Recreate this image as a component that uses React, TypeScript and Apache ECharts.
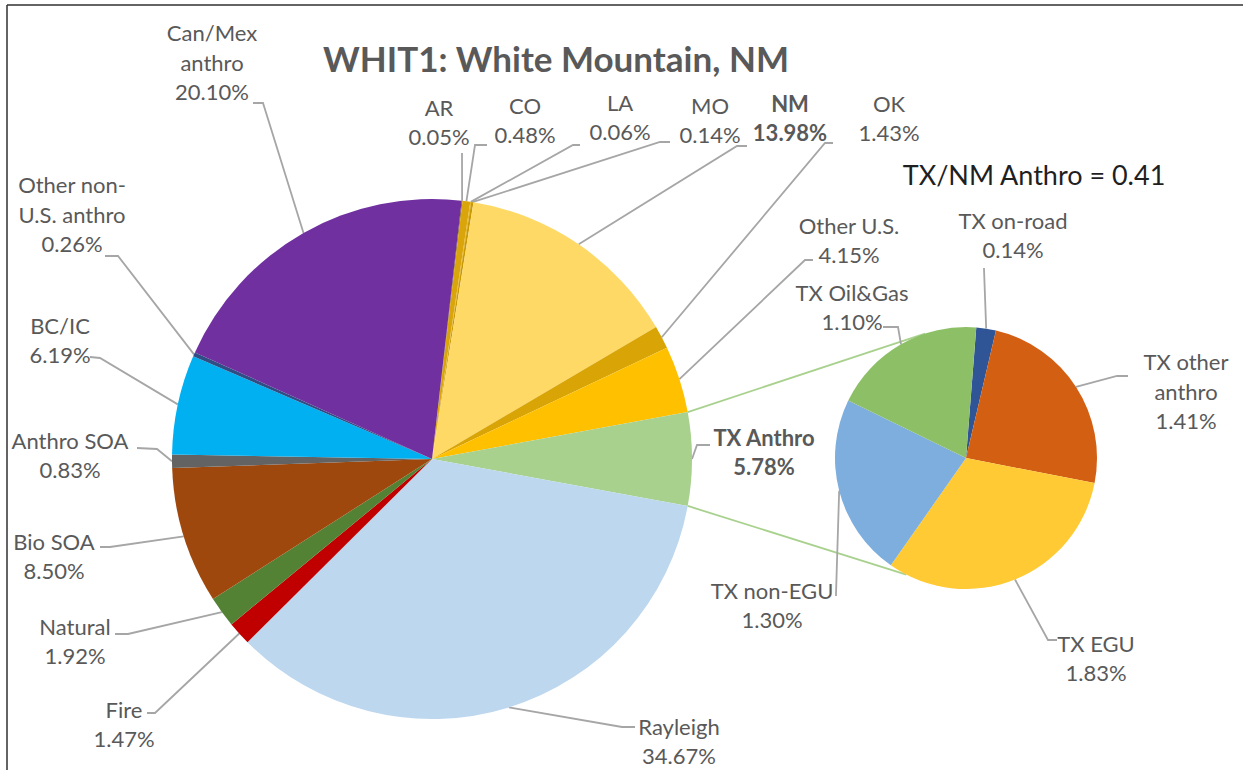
import React, { useEffect, useRef } from "react";
import * as echarts from "echarts";

// ---------------- data ----------------
const TITLE = "WHIT1: White Mountain, NM";
const SUBTITLE = "TX/NM Anthro = 0.41";

const MAIN_NAMES = [
  "AR", "CO", "LA", "MO", "NM", "OK", "Other U.S.", "TX Anthro", "Rayleigh",
  "Fire", "Natural", "Bio SOA", "Anthro SOA", "BC/IC", "Other non-U.S. anthro", "Can/Mex anthro",
];
const MAIN_VALUES = [
  0.05, 0.48, 0.06, 0.14, 13.98, 1.43, 4.15, 5.78, 34.67,
  1.47, 1.92, 8.5, 0.83, 6.19, 0.26, 20.1,
];
const SPLIT_NAME = "TX Anthro";

const SUB_NAMES = ["TX on-road", "TX other anthro", "TX EGU", "TX non-EGU", "TX Oil&Gas"];
const SUB_VALUES = [0.14, 1.41, 1.83, 1.3, 1.1];

const BOLD_LABELS = ["NM", "TX Anthro"];

// ---------------- styles / layout ----------------
const COLORS: Record<string, string> = {
  AR: "#7F6000",
  CO: "#D9A50A",
  LA: "#E6B31E",
  MO: "#C99A06",
  NM: "#FFD966",
  OK: "#D9A506",
  "Other U.S.": "#FFC000",
  "TX Anthro": "#A9D18E",
  Rayleigh: "#BDD7EE",
  Fire: "#C00000",
  Natural: "#548235",
  "Bio SOA": "#9E480E",
  "Anthro SOA": "#636363",
  "BC/IC": "#00B0F0",
  "Other non-U.S. anthro": "#2F4E86",
  "Can/Mex anthro": "#7030A0",
  "TX on-road": "#2F5597",
  "TX other anthro": "#D35F12",
  "TX EGU": "#FFCA33",
  "TX non-EGU": "#7DAEDD",
  "TX Oil&Gas": "#8DC066",
};

const LABEL_TEXT: Record<string, string> = {
  "Can/Mex anthro": "Can/Mex\nanthro",
  "Other non-U.S. anthro": "Other non-\nU.S. anthro",
  "TX other anthro": "TX other\nanthro",
};

type LL = { at: [number, number]; elbow: [number, number]; end: [number, number] };
const LABEL_LAYOUT: Record<string, LL> = {
  AR: { at: [439, 122], elbow: [462, 154], end: [462, 153] },
  CO: { at: [525, 120], elbow: [475, 145], end: [487, 145] },
  LA: { at: [620, 117], elbow: [573, 145], end: [580, 145] },
  MO: { at: [710, 120], elbow: [660, 142], end: [670, 142] },
  NM: { at: [790, 118], elbow: [737, 146], end: [747, 146] },
  OK: { at: [889, 118], elbow: [825, 143], end: [833, 143] },
  "Other U.S.": { at: [849, 240], elbow: [805, 260], end: [813, 260] },
  "TX Anthro": { at: [764, 452], elbow: [697, 445], end: [710, 445] },
  Rayleigh: { at: [679, 741], elbow: [622, 727], end: [635, 727] },
  Fire: { at: [124, 724], elbow: [155, 713], end: [147, 713] },
  Natural: { at: [75, 641], elbow: [128, 634], end: [115, 634] },
  "Bio SOA": { at: [54, 556], elbow: [110, 547], end: [100, 547] },
  "Anthro SOA": { at: [70, 455], elbow: [157, 449], end: [137, 448] },
  "BC/IC": { at: [60, 340], elbow: [100, 358], end: [90, 357] },
  "Other non-U.S. anthro": { at: [72, 214], elbow: [118, 256], end: [105, 256] },
  "Can/Mex anthro": { at: [212, 62], elbow: [263, 103], end: [253, 103] },
  "TX on-road": { at: [1013, 235], elbow: [984, 269], end: [984, 268] },
  "TX other anthro": { at: [1186, 391], elbow: [1117, 376], end: [1128, 376] },
  "TX EGU": { at: [1096, 658], elbow: [1048, 640], end: [1057, 640] },
  "TX non-EGU": { at: [772, 605], elbow: [836, 594], end: [836, 596] },
  "TX Oil&Gas": { at: [852, 307], elbow: [898, 327], end: [883, 327] },
};

const MAIN_CENTER: [number, number] = [432, 459];
const MAIN_R = 260;
const SUB_CENTER: [number, number] = [966, 458];
const SUB_R = 131;
const SUB_START = 85.5;
const SUB_LINK_ANGLES = [108.2, 242.9];

const FONT = "Lato, 'Noto Sans', sans-serif";
const LABEL_COLOR = "#595959";
const LEADER_COLOR = "#A6A6A6";

const sum = (a: number[]) => a.reduce((s, v) => s + v, 0);
const rad = (d: number) => (d * Math.PI) / 180;
const onCircle = (c: [number, number], r: number, deg: number): [number, number] => [
  c[0] + r * Math.cos(rad(deg)),
  c[1] - r * Math.sin(rad(deg)),
];

function boundaries(values: number[], start: number) {
  const total = sum(values);
  const out: number[] = [start];
  let acc = 0;
  values.forEach((v) => {
    acc += v;
    out.push(start - (acc / total) * 360);
  });
  return out;
}

export default function App() {
  const ref = useRef<HTMLDivElement>(null);

  useEffect(() => {
    if (!ref.current) return;
    const chart = echarts.init(ref.current, undefined, { renderer: "svg" });

    const splitIdx = MAIN_NAMES.indexOf(SPLIT_NAME);
    const mainTotal = sum(MAIN_VALUES);
    const before = sum(MAIN_VALUES.slice(0, splitIdx));
    const mainStart = ((before + MAIN_VALUES[splitIdx] / 2) / mainTotal) * 360;
    const mainB = boundaries(MAIN_VALUES, mainStart);
    const subB = boundaries(SUB_VALUES, SUB_START);

    const mkLayout = (names: string[], b: number[], c: [number, number], r: number) => (p: any) => {
      const name = names[p.dataIndex];
      const L = LABEL_LAYOUT[name];
      if (!L) return {};
      const mid = (b[p.dataIndex] + b[p.dataIndex + 1]) / 2;
      const s = onCircle(c, r, mid);
      return {
        x: L.at[0],
        y: L.at[1],
        align: "center",
        verticalAlign: "middle",
        labelLinePoints: [s, L.elbow, L.end],
      };
    };

    const mkData = (names: string[], values: number[]) =>
      names.map((n, i) => ({
        name: n,
        value: values[i],
        itemStyle: { color: COLORS[n] },
        label: { fontWeight: BOLD_LABELS.includes(n) ? "bold" : "normal" },
      }));

    const labelCommon = {
      show: true,
      position: "outside",
      color: LABEL_COLOR,
      fontFamily: FONT,
      fontSize: 22,
      lineHeight: 29.5,
      align: "center",
      formatter: (p: any) => `${LABEL_TEXT[p.name] ?? p.name}\n${Number(p.value).toFixed(2)}%`,
    };
    const labelLineCommon = {
      show: true,
      length: 10,
      length2: 10,
      lineStyle: { color: LEADER_COLOR, width: 1.8 },
    };

    const tA = mainB[splitIdx];
    const tB = mainB[splitIdx + 1];
    const p1 = onCircle(MAIN_CENTER, MAIN_R, tA);
    const p2 = onCircle(MAIN_CENTER, MAIN_R, tB);
    const q1 = onCircle(SUB_CENTER, SUB_R, SUB_LINK_ANGLES[0]);
    const q2 = onCircle(SUB_CENTER, SUB_R, SUB_LINK_ANGLES[1]);

    chart.setOption({
      animation: false,
      backgroundColor: "#ffffff",
      graphic: [
        { type: "line", shape: { x1: 7, y1: 5, x2: 7, y2: 775 }, style: { stroke: "#303030", lineWidth: 1.5 }, z: 1 },
        { type: "line", shape: { x1: 7, y1: 5, x2: 1250, y2: 5 }, style: { stroke: "#303030", lineWidth: 1.5 }, z: 1 },
        { type: "line", shape: { x1: p1[0], y1: p1[1], x2: q1[0], y2: q1[1] }, style: { stroke: "#A9D18E", lineWidth: 1.8 }, z: 1 },
        { type: "line", shape: { x1: p2[0], y1: p2[1], x2: q2[0], y2: q2[1] }, style: { stroke: "#A9D18E", lineWidth: 1.8 }, z: 1 },
        {
          type: "text",
          x: 556,
          y: 58,
          style: { text: TITLE, fontFamily: FONT, fontSize: 35, fontWeight: "bold", fill: "#595959", align: "center", verticalAlign: "middle" },
        },
        {
          type: "text",
          x: 1034,
          y: 174,
          style: { text: SUBTITLE, fontFamily: FONT, fontSize: 27, fill: "#1f1f1f", align: "center", verticalAlign: "middle" },
        },
      ],
      series: [
        {
          type: "pie",
          center: MAIN_CENTER,
          radius: MAIN_R,
          startAngle: mainStart,
          clockwise: true,
          avoidLabelOverlap: false,
          silent: true,
          itemStyle: { borderWidth: 0 },
          label: labelCommon,
          labelLine: labelLineCommon,
          labelLayout: mkLayout(MAIN_NAMES, mainB, MAIN_CENTER, MAIN_R),
          data: mkData(MAIN_NAMES, MAIN_VALUES),
        },
        {
          type: "pie",
          center: SUB_CENTER,
          radius: SUB_R,
          startAngle: SUB_START,
          clockwise: true,
          avoidLabelOverlap: false,
          silent: true,
          itemStyle: { borderWidth: 0 },
          label: labelCommon,
          labelLine: labelLineCommon,
          labelLayout: mkLayout(SUB_NAMES, subB, SUB_CENTER, SUB_R),
          data: mkData(SUB_NAMES, SUB_VALUES),
        },
      ],
    });

    return () => chart.dispose();
  }, []);

  return (
    <div
      ref={ref}
      style={{ position: "absolute", left: 0, top: 0, width: 1243, height: 770, background: "#fff" }}
    />
  );
}
